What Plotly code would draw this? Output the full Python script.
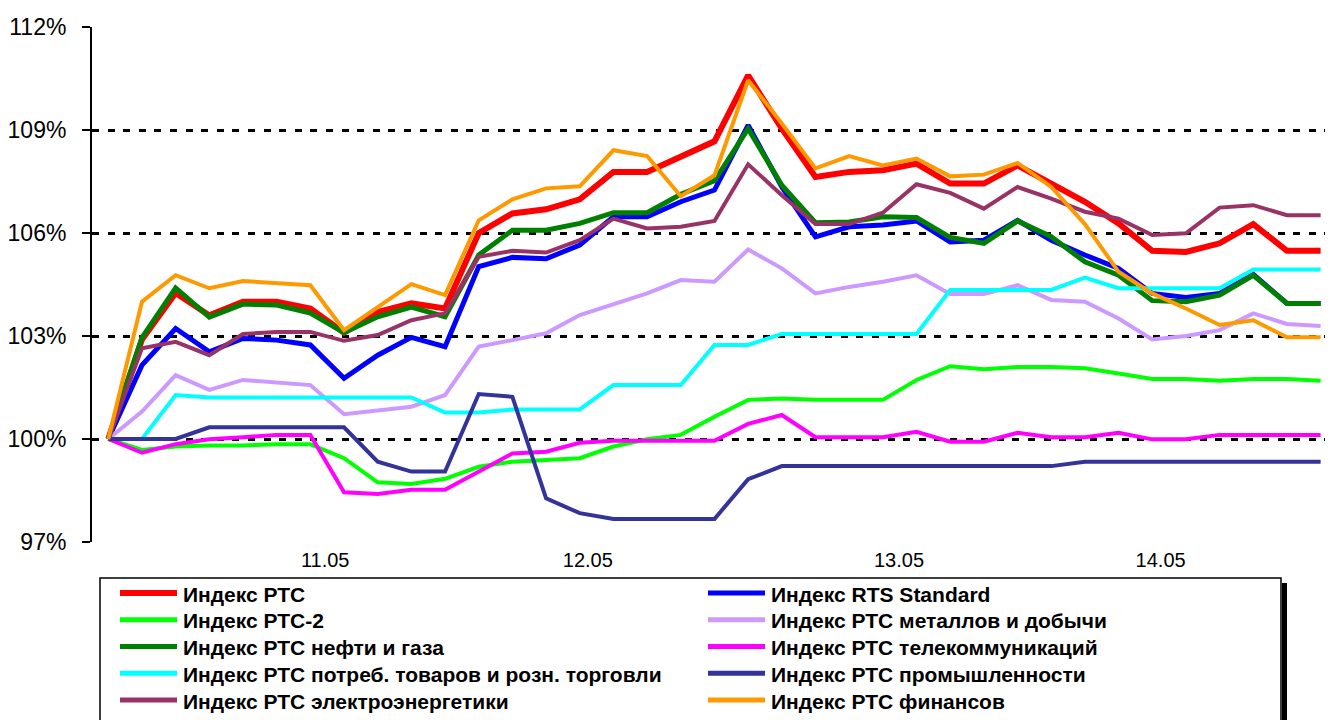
import plotly.graph_objects as go

# ---------------- data ----------------
n_points = 37
point_index = list(range(n_points))

day_labels = ["11.05", "12.05", "13.05", "14.05"]
day_label_pos = [6.44, 14.24, 23.48, 31.25]

y_ticks = [97, 100, 103, 106, 109, 112]
y_tick_text = [f"{v}%" for v in y_ticks]

rts = [100, 102.9, 104.25, 103.6, 104.0, 104.0, 103.8, 103.1, 103.7, 103.95, 103.8,
       106.0, 106.57, 106.69, 106.98, 107.78, 107.78, 108.22, 108.67, 110.59, 109.04,
       107.63, 107.78, 107.83, 108.02, 107.44, 107.44, 107.97, 107.44, 106.91, 106.28,
       105.48, 105.45, 105.70, 106.26, 105.48, 105.48]
rts_standard = [100, 102.15, 103.22, 102.54, 102.93, 102.88, 102.74, 101.77, 102.44, 102.96, 102.69,
                105.02, 105.29, 105.25, 105.65, 106.47, 106.47, 106.91, 107.25, 109.14, 107.34,
                105.89, 106.18, 106.23, 106.35, 105.74, 105.79, 106.37, 105.79, 105.36, 104.97,
                104.24, 104.12, 104.24, 104.80, 103.95, 103.95]
rts2 = [100, 99.68, 99.78, 99.81, 99.81, 99.85, 99.85, 99.44, 98.74, 98.69, 98.84,
        99.19, 99.34, 99.39, 99.44, 99.78, 99.99, 100.12, 100.65, 101.14, 101.18,
        101.14, 101.14, 101.14, 101.72, 102.12, 102.03, 102.10, 102.10, 102.06, 101.91,
        101.75, 101.75, 101.70, 101.75, 101.75, 101.70]
metals = [100, 100.80, 101.86, 101.43, 101.72, 101.64, 101.57, 100.72, 100.82, 100.94, 101.28,
          102.69, 102.88, 103.08, 103.61, 103.93, 104.24, 104.63, 104.58, 105.52, 104.97,
          104.24, 104.43, 104.58, 104.77, 104.22, 104.22, 104.48, 104.05, 104.00, 103.51,
          102.90, 103.00, 103.17, 103.66, 103.35, 103.29]
oil_gas = [100, 102.95, 104.40, 103.55, 103.93, 103.90, 103.67, 103.10, 103.56, 103.84, 103.56,
           105.36, 106.08, 106.08, 106.28, 106.59, 106.59, 107.13, 107.52, 109.04, 107.39,
           106.30, 106.32, 106.47, 106.45, 105.87, 105.70, 106.35, 105.89, 105.16, 104.77,
           104.03, 104.00, 104.19, 104.77, 103.95, 103.95]
telecom = [100, 99.60, 99.85, 99.99, 100.05, 100.12, 100.12, 98.45, 98.40, 98.52, 98.52,
           99.05, 99.58, 99.63, 99.89, 99.95, 99.95, 99.95, 99.95, 100.44, 100.70,
           100.05, 100.05, 100.05, 100.21, 99.92, 99.92, 100.18, 100.05, 100.05, 100.18,
           99.99, 99.99, 100.12, 100.12, 100.12, 100.12]
consumer = [100, 100.0, 101.28, 101.21, 101.21, 101.21, 101.21, 101.21, 101.21, 101.21, 100.77,
            100.77, 100.86, 100.86, 100.86, 101.57, 101.57, 101.57, 102.74, 102.74, 103.06,
            103.06, 103.06, 103.06, 103.06, 104.34, 104.34, 104.34, 104.34, 104.70, 104.39,
            104.39, 104.39, 104.39, 104.94, 104.94, 104.94]
industry = [100, 100, 100, 100.34, 100.34, 100.34, 100.34, 100.34, 99.34, 99.05, 99.05,
            101.31, 101.23, 98.27, 97.84, 97.67, 97.67, 97.67, 97.67, 98.83, 99.21,
            99.21, 99.21, 99.21, 99.21, 99.21, 99.21, 99.21, 99.21, 99.34, 99.34,
            99.34, 99.34, 99.34, 99.34, 99.34, 99.34]
power = [100, 102.64, 102.83, 102.44, 103.06, 103.12, 103.12, 102.86, 103.03, 103.46, 103.66,
         105.31, 105.48, 105.43, 105.79, 106.42, 106.13, 106.18, 106.35, 108.00, 107.10,
         106.26, 106.26, 106.59, 107.42, 107.17, 106.71, 107.34, 107.00, 106.62, 106.42,
         105.94, 105.99, 106.74, 106.81, 106.52, 106.52]
finance = [100, 104.00, 104.77, 104.39, 104.60, 104.55, 104.48, 103.17, 103.85, 104.51, 104.19,
           106.37, 106.98, 107.30, 107.36, 108.41, 108.24, 107.07, 107.68, 110.45, 109.19,
           107.88, 108.24, 107.97, 108.17, 107.65, 107.70, 108.04, 107.34, 106.26, 104.87,
           104.24, 103.80, 103.32, 103.46, 102.96, 102.96]

series_names = [
    "Индекс РТС", "Индекс RTS Standard",
    "Индекс РТС-2", "Индекс РТС металлов и добычи",
    "Индекс РТС нефти и газа", "Индекс РТС телекоммуникаций",
    "Индекс РТС потреб. товаров и розн. торговли", "Индекс РТС промышленности",
    "Индекс РТС электроэнергетики", "Индекс РТС финансов",
]
series_values = [rts, rts_standard, rts2, metals, oil_gas, telecom,
                 consumer, industry, power, finance]
series_colors = ["#FF0000", "#0000FF", "#00FF00", "#CC99FF", "#008000", "#FF00FF",
                 "#00FFFF", "#333399", "#993366", "#FF9900"]
series_widths = [6, 5, 4, 4, 5, 4, 4, 4, 4, 4]

# ---------------- figure ----------------
# the html page body has an 8px margin, so the figure is drawn 8px in/down
PAGE_OFF = 8
W, H = 1333 - PAGE_OFF, 720 - PAGE_OFF
plot_left, plot_right, plot_top, plot_bottom = 92, 1326, 27, 542   # page pixels
ml = plot_left - PAGE_OFF
mt = plot_top - PAGE_OFF
mr = (W + PAGE_OFF) - plot_right
mb = (H + PAGE_OFF) - plot_bottom
pw, ph = plot_right - plot_left, plot_bottom - plot_top

def px_x(px):
    return (px - plot_left) / pw

def px_y(py):
    return (plot_bottom - py) / ph

fig = go.Figure()
for name, vals, col, wd in zip(series_names, series_values, series_colors, series_widths):
    fig.add_trace(go.Scatter(
        x=point_index, y=vals, mode="lines", name=name,
        line=dict(color=col, width=wd, shape="linear"),
        hoverinfo="name+y", showlegend=False,
    ))

font_family = "Liberation Sans, Arial, sans-serif"

fig.update_layout(
    width=W, height=H,
    margin=dict(l=ml, r=mr, t=mt, b=mb, pad=0, autoexpand=False),
    paper_bgcolor="white", plot_bgcolor="white",
    font=dict(family=font_family, color="black"),
    xaxis=dict(
        range=[-0.484, 36.16],
        tickmode="array", tickvals=day_label_pos, ticktext=day_labels,
        showgrid=False, zeroline=False, showline=False, ticks="",
        tickfont=dict(size=20, family=font_family, color="black"),
        ticklabelstandoff=4,
    ),
    yaxis=dict(
        range=[97, 112],
        tickmode="array", tickvals=y_ticks, ticktext=y_tick_text,
        showgrid=True, gridcolor="black", gridwidth=3, griddash="7px,8.6px",
        zeroline=False, showline=True, linecolor="black", linewidth=2,
        ticks="outside", ticklen=8, tickwidth=2, tickcolor="black",
        tickfont=dict(size=23, family=font_family, color="black"),
        ticklabelstandoff=11,
    ),
    showlegend=False,
)

# ---------------- legend (two columns, row-wise) ----------------
leg_left, leg_right, leg_top = 100, 1281, 578
row_y0, row_step = 593, 26.75
col_step = 588
line_x0, line_x1, text_x = 120, 177, 181

fig.add_shape(type="rect", xref="paper", yref="paper",
              x0=px_x(leg_left), x1=px_x(leg_right), y0=px_y(leg_top), y1=px_y(724),
              line=dict(color="black", width=1.5), fillcolor="white", layer="below")
fig.add_shape(type="rect", xref="paper", yref="paper",
              x0=px_x(leg_right + 1), x1=px_x(leg_right + 6), y0=px_y(leg_top + 5), y1=px_y(724),
              line=dict(width=0), fillcolor="black", layer="below")

for k, (name, col, wd) in enumerate(zip(series_names, series_colors, series_widths)):
    row, c = divmod(k, 2)
    yy = row_y0 + row * row_step
    fig.add_shape(type="line", xref="paper", yref="paper",
                  x0=px_x(line_x0 + c * col_step), x1=px_x(line_x1 + c * col_step),
                  y0=px_y(yy), y1=px_y(yy),
                  line=dict(color=col, width=6 if k == 0 else 5), layer="above")
    fig.add_annotation(xref="paper", yref="paper",
                       x=px_x(text_x + c * col_step), y=px_y(yy + 1),
                       xanchor="left", yanchor="middle", showarrow=False,
                       text=name,
                       font=dict(size=21, family=font_family, color="black", weight="bold"))

fig.write_html("out.html")
